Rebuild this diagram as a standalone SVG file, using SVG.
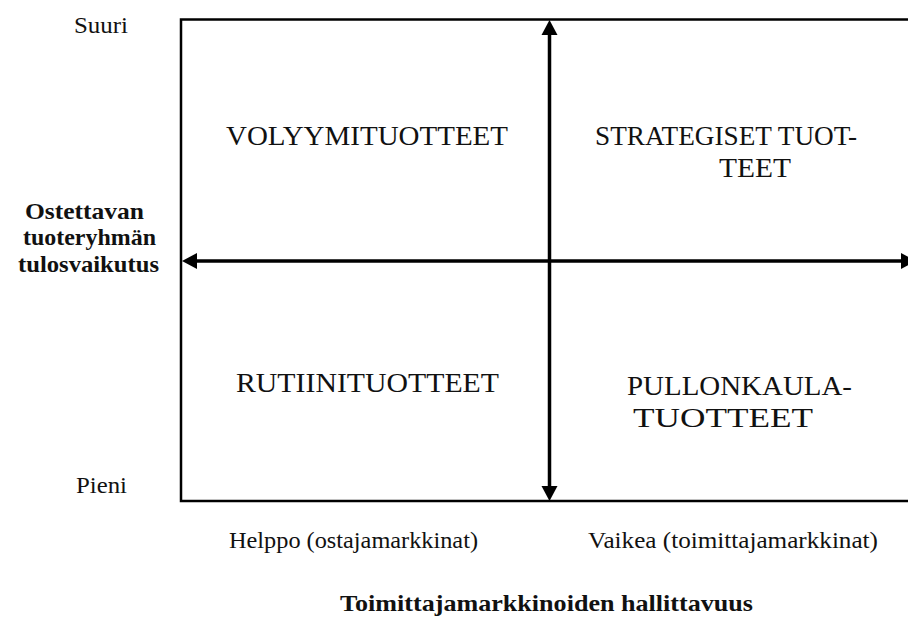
<svg xmlns="http://www.w3.org/2000/svg" width="908" height="618" viewBox="0 0 908 618">
  <style>
    .lbl { font-family: "Liberation Serif", "Times New Roman", serif; fill: #111; }
    .q { font-size: 27px; }
    .s { font-size: 23px; }
    .b { font-size: 24px; font-weight: bold; }
    .frame { fill: none; stroke: #000; stroke-width: 2.5; }
    .axis { stroke: #000; stroke-width: 3.5; fill: none; }
  </style>
  <defs>
    <marker id="head" markerUnits="userSpaceOnUse" markerWidth="16" markerHeight="18" refX="0" refY="8" orient="auto-start-reverse" viewBox="0 0 16 16" overflow="visible">
      <path d="M0,0 L15,8 L0,16 z" fill="#000"/>
    </marker>
  </defs>

  <rect id="background" x="0" y="0" width="908" height="618" fill="#fff"/>

  <!-- matrix frame, open to the right edge -->
  <g id="frame">
    <rect class="frame" x="181" y="19.5" width="760" height="481.5"/>
  </g>

  <!-- axes with arrowheads at both ends -->
  <g id="connectors">
    <line class="axis" x1="549.5" y1="35" x2="549.5" y2="486" marker-start="url(#head)" marker-end="url(#head)"/>
    <line class="axis" x1="197" y1="261" x2="901" y2="261" marker-start="url(#head)" marker-end="url(#head)"/>
  </g>

  <!-- quadrants -->
  <g id="q-volyymi">
    <text class="lbl q" x="226" y="145" textLength="282" lengthAdjust="spacingAndGlyphs">VOLYYMITUOTTEET</text>
  </g>
  <g id="q-strategiset">
    <text class="lbl q" x="595" y="145" textLength="262" lengthAdjust="spacingAndGlyphs">STRATEGISET TUOT-</text>
    <text class="lbl q" x="719" y="177" textLength="72" lengthAdjust="spacingAndGlyphs">TEET</text>
  </g>
  <g id="q-rutiini">
    <text class="lbl q" x="236" y="392" textLength="263" lengthAdjust="spacingAndGlyphs">RUTIINITUOTTEET</text>
  </g>
  <g id="q-pullonkaula">
    <text class="lbl q" x="627" y="395" textLength="225" lengthAdjust="spacingAndGlyphs">PULLONKAULA-</text>
    <text class="lbl q" x="633" y="427" textLength="180" lengthAdjust="spacingAndGlyphs">TUOTTEET</text>
  </g>

  <!-- vertical axis labels -->
  <g id="y-high">
    <text class="lbl s" x="74" y="33" textLength="54" lengthAdjust="spacingAndGlyphs">Suuri</text>
  </g>
  <g id="y-low">
    <text class="lbl s" x="76" y="493" textLength="51" lengthAdjust="spacingAndGlyphs">Pieni</text>
  </g>
  <g id="y-title">
    <text class="lbl b" x="25" y="219" textLength="119" lengthAdjust="spacingAndGlyphs">Ostettavan</text>
    <text class="lbl b" x="23" y="245" textLength="133" lengthAdjust="spacingAndGlyphs">tuoteryhmän</text>
    <text class="lbl b" x="18" y="272" textLength="141" lengthAdjust="spacingAndGlyphs">tulosvaikutus</text>
  </g>

  <!-- horizontal axis labels -->
  <g id="x-easy">
    <text class="lbl s" x="229" y="548" textLength="249" lengthAdjust="spacingAndGlyphs">Helppo (ostajamarkkinat)</text>
  </g>
  <g id="x-hard">
    <text class="lbl s" x="588" y="548" textLength="290" lengthAdjust="spacingAndGlyphs">Vaikea (toimittajamarkkinat)</text>
  </g>
  <g id="x-title">
    <text class="lbl b" x="340" y="611" textLength="413" lengthAdjust="spacingAndGlyphs">Toimittajamarkkinoiden hallittavuus</text>
  </g>
</svg>
